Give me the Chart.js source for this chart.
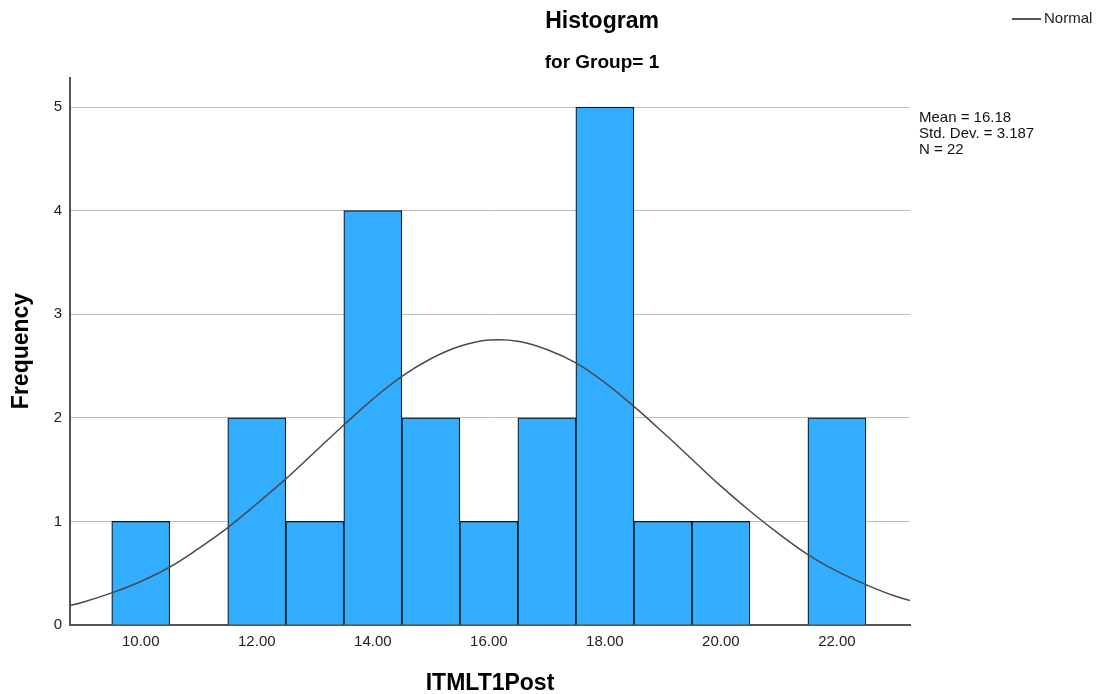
<!DOCTYPE html>
<html lang="en">
<head>
   <meta charset="UTF-8">
   <title>Histogram - ITMLT1Post</title>
   <script src="https://cdn.jsdelivr.net/npm/chart.js@4.4.1/dist/chart.umd.min.js"></script>
   <style>
      html, body { margin: 0; padding: 0; background: #fff; }
      #wrap { width: 1096px; height: 694px; }
   </style>
</head>
<body>
   <div id="wrap"><canvas id="myChart" width="1096" height="694"></canvas></div>
   <script>
      // bins (value of ITMLT1Post) and their frequencies
      const bins = [10, 11, 12, 13, 14, 15, 16, 17, 18, 19, 20, 21, 22];
      const freq = [1, 0, 2, 1, 4, 2, 1, 2, 5, 1, 1, 0, 2];

      // normal curve
      const curveX = [8.5, 9, 9.5, 10, 10.5, 11, 11.5, 12, 12.5, 13, 13.5, 14, 14.5, 15, 15.5, 16,
                      16.5, 17, 17.5, 18, 18.5, 19, 19.5, 20, 20.5, 21, 21.5, 22, 22.5, 23, 23.5];
      const curveY = [0.15, 0.22, 0.31, 0.42, 0.56, 0.74, 0.94, 1.17, 1.41, 1.67, 1.93, 2.18, 2.40, 2.57, 2.69, 2.75,
                      2.74, 2.66, 2.53, 2.34, 2.11, 1.86, 1.60, 1.34, 1.10, 0.88, 0.68, 0.52, 0.39, 0.28, 0.20];

      const statLines = ['Mean = 16.18', 'Std. Dev. = 3.187', 'N = 22'];
      const FONT = 'Arial, "Liberation Sans", sans-serif';

      const textPlugin = {
         id: 'spssText',
         afterDraw(chart) {
            const ctx = chart.ctx;
            const a = chart.chartArea;
            ctx.save();
            ctx.fillStyle = '#000';
            ctx.textAlign = 'center';
            ctx.textBaseline = 'middle';
            ctx.font = 'bold 23px ' + FONT;
            ctx.fillText('Histogram', 602, 22);
            ctx.font = 'bold 19px ' + FONT;
            ctx.fillText('for Group= 1', 602, 63);

            // axis titles
            ctx.font = 'bold 23px ' + FONT;
            ctx.fillText('ITMLT1Post', (a.left + a.right) / 2, 684);
            ctx.save();
            ctx.translate(22, 351);
            ctx.rotate(-Math.PI / 2);
            ctx.fillText('Frequency', 0, 0);
            ctx.restore();

            // stats
            ctx.textAlign = 'left';
            ctx.font = '15px ' + FONT;
            ctx.fillStyle = '#111';
            statLines.forEach((s, i) => ctx.fillText(s, a.right + 9, 118 + i * 16));

            // legend
            ctx.strokeStyle = '#555';
            ctx.lineWidth = 2;
            ctx.beginPath();
            ctx.moveTo(1012, 19);
            ctx.lineTo(1041, 19);
            ctx.stroke();
            ctx.fillStyle = '#222';
            ctx.fillText('Normal', 1044, 19);
            ctx.restore();
         }
      };

      const data = {
         datasets: [
            {
               type: 'line',
               label: 'Normal',
               data: curveX.map((x, i) => ({ x: x, y: curveY[i] })),
               borderColor: '#4a4a4a',
               borderWidth: 1.5,
               pointRadius: 0,
               tension: 0.4,
               fill: false,
               order: 0
            },
            {
               type: 'bar',
               label: 'Frequency',
               data: bins.map((b, i) => ({ x: b, y: freq[i] })),
               backgroundColor: '#33adff',
               borderColor: '#111',
               borderWidth: 1.2,
               categoryPercentage: 1.0,
               barPercentage: 1.0,
               order: 1
            }
         ]
      };

      const config = {
         type: 'bar',
         data: data,
         options: {
            responsive: false,
            animation: false,
            layout: { padding: { top: 78, right: 186, left: 0, bottom: 0 } },
            plugins: {
               legend: { display: false },
               title: { display: false },
               tooltip: { enabled: false }
            },
            scales: {
               x: {
                  type: 'linear',
                  offset: false,
                  min: 8.78,
                  max: 23.26,
                  afterFit: (s) => { s.height = 69; },
                  grid: { color: 'transparent', drawTicks: false, offset: false },
                  border: { display: true, color: '#555', width: 2 },
                  ticks: {
                     stepSize: 2,
                     includeBounds: false,
                     padding: 8,
                     color: '#222',
                     font: { family: FONT, size: 15 },
                     callback: (v) => v.toFixed(2)
                  }
               },
               y: {
                  min: 0,
                  max: 5.28,
                  afterFit: (s) => { s.width = 70; },
                  grid: { color: '#bdbdbd', lineWidth: 1, drawTicks: false },
                  border: { display: true, color: '#555', width: 2 },
                  ticks: {
                     stepSize: 1,
                     includeBounds: false,
                     padding: 8,
                     color: '#222',
                     font: { family: FONT, size: 15 }
                  }
               }
            }
         },
         plugins: [textPlugin]
      };

      const myChart = new Chart(document.getElementById('myChart'), config);
   </script>
</body>
</html>
